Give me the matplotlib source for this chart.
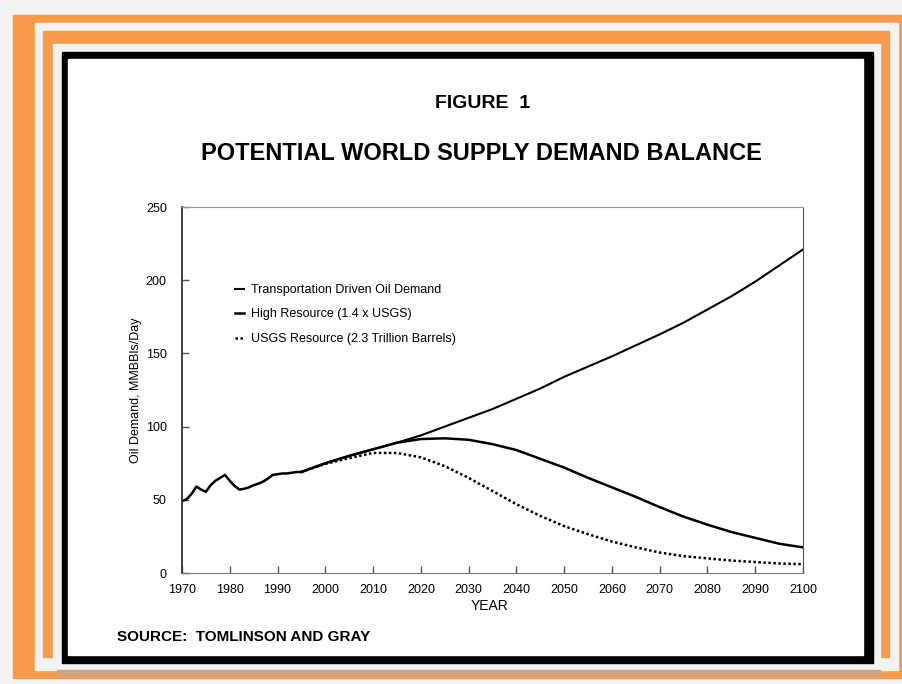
import matplotlib
matplotlib.use("Agg")
import matplotlib.pyplot as plt
from matplotlib.patches import Rectangle

#region DATA

histYears = [1970, 1971, 1972, 1973, 1974, 1975, 1976, 1977, 1978, 1979, 1980, 1981, 1982,
             1983, 1984, 1985, 1986, 1987, 1988, 1989, 1990, 1991, 1992, 1993, 1994, 1995]
histDemand = [49, 50.5, 54, 59, 57, 55.5, 60, 63, 65, 67, 63, 59.5, 57,
              57.5, 58.5, 60, 61, 62.5, 64.5, 67, 67.5, 68, 68, 68.5, 69, 69]

projYears = [1995, 2000, 2005, 2010, 2015, 2020, 2025, 2030, 2035, 2040, 2045, 2050, 2055,
             2060, 2065, 2070, 2075, 2080, 2085, 2090, 2095, 2100]
transportDemand = [69, 75, 80, 84.5, 89, 94, 100, 106, 112, 119, 126, 134, 141,
                   148, 155.5, 163, 171, 180, 189, 199, 210, 221]
highResource = [69, 75, 80, 84.5, 89, 91.5, 92, 91, 88, 84, 78, 72, 65,
                58.5, 52, 45, 38.5, 33, 28, 24, 20, 17.5]
usgsResource = [69, 74.5, 78.5, 82, 82, 79, 73, 65, 56, 47, 39, 32, 26.5,
                21.5, 17.5, 14, 11.5, 10, 8.5, 7.5, 6.5, 6]

labels = ["Transportation Driven Oil Demand", "High Resource (1.4 x USGS)",
          "USGS Resource (2.3 Trillion Barrels)"]
xTicks = list(range(1970, 2101, 10))
yTicks = [0, 50, 100, 150, 200, 250]

#endregion

W, H = 903, 684
fig = plt.figure(figsize=(W / 100, H / 100), dpi=100)
fig.patch.set_facecolor("#f2f2f2")

def box(x0, y0, x1, y1, color): #pixel coords, y measured from the top
    fig.patches.append(Rectangle((x0 / W, 1 - y1 / H), (x1 - x0) / W, (y1 - y0) / H,
                                 transform=fig.transFigure, color=color, zorder=0))

#region FRAME
box(13, 15, 903, 678, "#f79a4a")
box(35, 23, 898, 670, "#f2f2f2")
box(57, 670, 880, 676, "#d1a07c")
box(43, 31, 889, 657, "#f79a4a")
box(53, 44, 880, 663, "#f2f2f2")
box(62, 52, 873, 663, "#000000")
box(68, 59, 863, 655, "#ffffff")
#endregion

sans = ["Liberation Sans", "DejaVu Sans"]

fig.text(483 / W, 1 - 103 / H, "FIGURE  1", ha="center", va="center",
         fontsize=14, fontweight="bold", family=sans)
fig.text(481 / W, 1 - 153 / H, "POTENTIAL WORLD SUPPLY DEMAND BALANCE", ha="center",
         va="center", fontsize=17, fontweight="bold", family=sans)
fig.text(117 / W, 1 - 637 / H, "SOURCE:  TOMLINSON AND GRAY", ha="left", va="center",
         fontsize=11, fontweight="bold", family=sans)

ax = fig.add_axes([182 / W, 1 - 573 / H, 621 / W, 366 / H])
ax.set_facecolor("white")
ax.set_zorder(2)

ax.plot(histYears, histDemand, color="black", linewidth=1.8)
ax.plot(projYears, transportDemand, color="black", linewidth=1.5, label=labels[0])
ax.plot(projYears, highResource, color="black", linewidth=1.8, label=labels[1])
ax.plot(projYears, usgsResource, color="black", linewidth=1.8, linestyle=(0, (1, 1)),
        label=labels[2])

ax.set_xlim(1970, 2100)
ax.set_ylim(0, 250)
ax.set_xticks(xTicks)
ax.set_yticks(yTicks)
ax.tick_params(direction="in", length=5, width=1, colors="#555555", labelcolor="black",
               labelsize=9)
ax.tick_params(axis="x", pad=8)
ax.tick_params(axis="y", pad=11)
for lab in ax.get_xticklabels() + ax.get_yticklabels():
    lab.set_family(sans)
ax.spines["left"].set_color("#333333")
ax.spines["left"].set_linewidth(1.3)
ax.spines["bottom"].set_color("#777777")
ax.spines["right"].set_color("#555555")
ax.spines["top"].set_color("#999999")

ax.set_xlabel("YEAR", fontsize=10, family=sans, labelpad=0)
ax.xaxis.set_label_coords((490 - 182) / 621, -(599 - 573) / 366)
ax.set_ylabel("Oil Demand, MMBBls/Day", fontsize=9, family=sans)
ax.yaxis.set_label_coords(-(182 - 142) / 621, (573 - 390) / 366)

leg = ax.legend(loc="upper left", bbox_to_anchor=((235 - 182) / 621, (573 - 284) / 366),
                frameon=False, handlelength=0.7, handletextpad=0.6, labelspacing=1.0,
                borderpad=0, borderaxespad=0, prop={"family": sans, "size": 9})

fig.savefig("out.png", dpi=100, facecolor=fig.get_facecolor())
